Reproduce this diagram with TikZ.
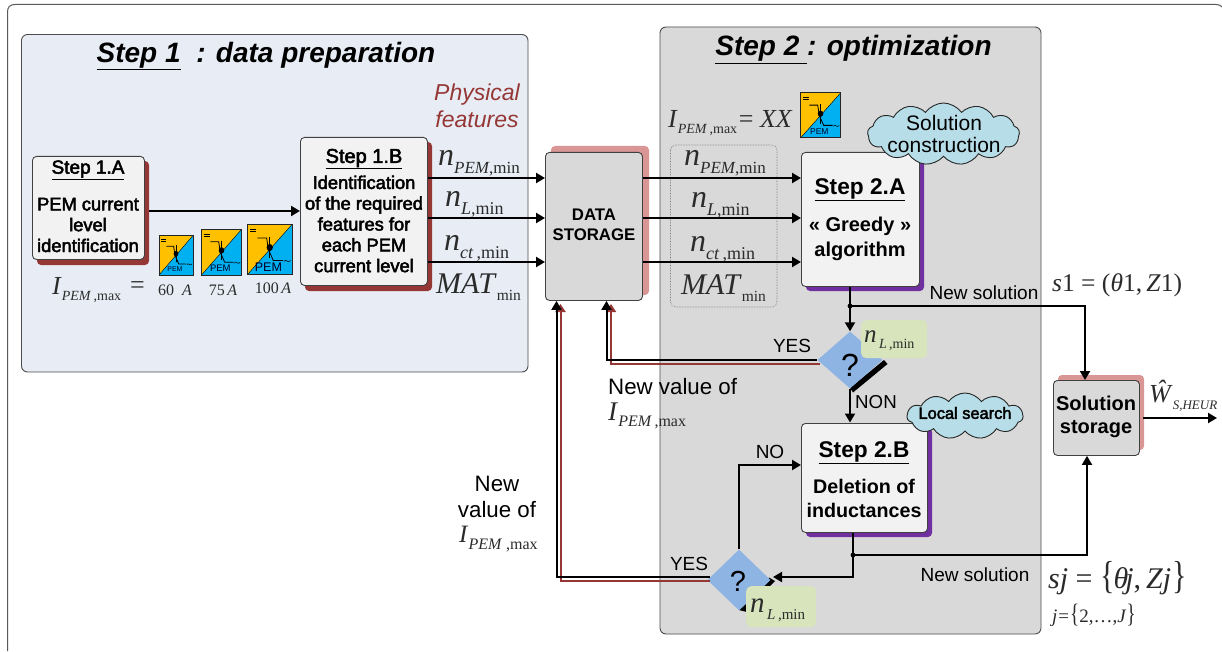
\documentclass[tikz,border=0pt]{standalone}
\usepackage{fontspec}
\setmainfont{Liberation Sans}
\newfontfamily\tms{Liberation Serif}
\newfontfamily\fb[FakeBold=2.6]{Liberation Sans}
\usetikzlibrary{shapes.geometric,shapes.symbols,arrows.meta,calc}
\definecolor{panelA}{HTML}{E8EDF5}
\definecolor{panelB}{HTML}{D9D9D9}
\definecolor{boxfill}{HTML}{F2F2F2}
\definecolor{redsh}{HTML}{953735}
\definecolor{pinksh}{HTML}{D99694}
\definecolor{purp}{HTML}{7030A0}
\definecolor{cloudc}{HTML}{B7DEE8}
\definecolor{greenb}{HTML}{D7E4BC}
\definecolor{diam}{HTML}{8EB4E3}
\definecolor{pemy}{HTML}{FFC000}
\definecolor{pemb}{HTML}{00B0F0}
\definecolor{mathc}{HTML}{2B2B2B}
% symbol with subscript: size, letter, italic sub, roman sub, sub size
\newcommand\symb[5]{{\color{mathc}\tms\fontsize{#1}{#1}\selectfont\textit{#2}\raisebox{-0.25em}{\fontsize{#5}{#5}\selectfont\textit{#3}#4}}}
\newcommand\pemicon[6]{% name, x, y, w, h, fontsize
 \begin{scope}[shift={(#2,#3)},x=#4pt,y=-#5pt]
  \fill[pemy] (0,0) -- (1,0) -- (0,1) -- cycle;
  \fill[pemb] (1,0) -- (1,1) -- (0,1) -- cycle;
  \draw[line width=.4pt] (0,1) -- (1,0);
  \draw[line width=1pt] (.06,.1) -- (.2,.1);
  \draw[line width=1pt] (.06,.15) -- (.2,.15);
  \draw[line width=.8pt] (.22,.27) -- (.43,.27) -- (.47,.5) -- (.58,.72) -- (.8,.72);
  \draw[line width=.8pt] (.5,.25) -- (.5,.68);
  \fill (.5,.46) circle[x radius=.07,y radius=.07];
  \draw[line width=.5pt] (.82,.74) .. controls (.87,.66) and (.9,.8) .. (.97,.72);
  \node[inner sep=0,font=\fontsize{#6}{#6}\selectfont,text=black!85!blue] (#1) at (.47,.85) {PEM};
  \draw[line width=1pt,black!85] (0,0) rectangle (1,1);
 \end{scope}}
\tikzset{
 panel/.style={draw=black!70,line width=.9pt,rounded corners=6pt},
 conn/.style={line width=2pt,-{Triangle[length=9pt,width=10pt]}},
 plainconn/.style={line width=2pt},
 redconn/.style={line width=2pt,redsh,-{Triangle[length=8pt,width=10pt]}},
 boxbase/.style={draw=black!75,line width=.9pt,rounded corners=4pt,fill=boxfill,inner sep=0,anchor=north west,align=center},
 lbl/.style={inner sep=0,align=center},
 cloudn/.style={cloud,cloud puffs=13,cloud puff arc=110,aspect=2.4,draw=black!85,line width=.9pt,fill=cloudc,inner sep=0},
 ques/.style={diamond,aspect=1.12,fill=diam,inner sep=0},
 greenn/.style={fill=greenb,rounded corners=5pt,inner sep=0,anchor=north west},
}
\begin{document}
\begin{tikzpicture}[x=1pt,y=-1pt]
\useasboundingbox (0,0) rectangle (1222,652);
\fill[white] (0,0) rectangle (1222,652);
% outer frame
\draw[black!65,line width=1pt] (7.5,651) -- (7.5,12) .. controls (7.5,7) and (10,4.5) .. (15,4.5) -- (1216,4.5) .. controls (1219,4.5) and (1221,5.5) .. (1222,7);
% panels
\draw[panel,fill=panelA] (21.5,34.5) rectangle (528,372);
\draw[panel,fill=panelB] (660,27) rectangle (1041,634);
\node[lbl,font=\fontsize{28}{28}\selectfont\bfseries\itshape] (t1) at (266,56) {\underline{Step 1}\ \ : data preparation};
\node[lbl,font=\fontsize{28}{28}\selectfont\bfseries\itshape] (t2) at (853.5,49.5) {\underline{Step 2 }: optimization};
\node[lbl,font=\fontsize{23}{27}\selectfont\itshape,text=redsh] (phys) at (477,106) {Physical\\features};
% shadows
\fill[redsh,rounded corners=4pt] (37,161) rectangle (149,265);
\fill[redsh,rounded corners=4pt] (305,142) rectangle (432,291);
\fill[pinksh,rounded corners=4pt] (551,146) rectangle (649,295);
\fill[purp,rounded corners=4pt] (806,157) rectangle (924,291);
\fill[purp,rounded corners=4pt] (806,428) rectangle (932,537);
\fill[pinksh,rounded corners=4pt] (1058,375) rectangle (1144,450);
% dotted box
\draw[black!55,densely dotted,line width=.6pt,rounded corners=5pt] (670.5,145) rectangle (777,307);
% boxes
\node[boxbase,minimum width=112pt,minimum height=103pt] (a1) at (32,156) {};
\node[boxbase,minimum width=127pt,minimum height=148pt] (b1) at (300,137) {};
\node[boxbase,minimum width=97pt,minimum height=148pt,fill=panelB] (ds) at (545,152) {};
\node[boxbase,minimum width=118pt,minimum height=134pt] (a2) at (801,152) {};
\node[boxbase,minimum width=126pt,minimum height=109pt] (b2) at (801,423) {};
\node[boxbase,minimum width=86pt,minimum height=75pt,fill=panelB] (ss) at (1053,380) {};
% box texts
\node[lbl,font=\fontsize{19}{19}\selectfont\fb] (a1t) at (88,170) {\underline{Step 1.A}};
\node[lbl,font=\fontsize{18.3}{20.8}\selectfont\fb] (a1b) at (88,225) {PEM current\\level\\identification};
\node[lbl,font=\fontsize{20}{20}\selectfont\fb] (b1t) at (364,159) {\underline{Step 1.B}};
\node[lbl,font=\fontsize{18.3}{20.8}\selectfont\fb] (b1b) at (364,224) {Identification\\of the required\\features for\\each PEM\\current level};
\node[lbl,font=\fontsize{16.8}{20.5}\selectfont\bfseries] (dst) at (594,225) {DATA\\STORAGE};
\node[lbl,font=\fontsize{22.7}{22.7}\selectfont\bfseries] (a2t) at (860,190) {\underline{Step 2.A}};
\node[lbl,font=\fontsize{20}{24.5}\selectfont\bfseries] (a2b) at (860,239) {« Greedy »\\algorithm};
\node[lbl,font=\fontsize{22.7}{22.7}\selectfont\bfseries] (b2t) at (864,453) {\underline{Step 2.B}};
\node[lbl,font=\fontsize{19.7}{24}\selectfont\bfseries] (b2b) at (864,498) {Deletion of\\inductances};
\node[lbl,font=\fontsize{20}{23.5}\selectfont\bfseries] (sst) at (1096,417) {Solution\\storage};
% clouds
\node[cloudn,minimum width=152pt,minimum height=62pt] (c1) at (943.5,134) {};
\node[lbl,font=\fontsize{21}{22.5}\selectfont] (c1t) at (944,134) {Solution\\construction};
\node[cloudn,minimum width=116pt,minimum height=46pt,cloud puffs=11] (c2) at (965,416) {};
\node[lbl,font=\fontsize{16.4}{16.4}\selectfont\fb] (c2t) at (965,413) {Local search};
% icons
\pemicon{p1}{159}{235.5}{34}{39.5}{7}
\pemicon{p2}{201.5}{229.5}{40}{45.5}{9.5}
\pemicon{p3}{247.5}{224.5}{44.5}{50}{12.5}
\pemicon{p4}{800.5}{93}{40}{45}{8.5}
% left math
\node[lbl,anchor=west] (imax1) at (52,290) {\symb{26}{I}{PEM}{\,,max}{14}};
\node[lbl,anchor=west,font=\tms\fontsize{26}{26}\selectfont,text=mathc] (eq1) at (130,288) {=};
\node[lbl,font=\tms\fontsize{16}{16}\selectfont,text=mathc] (v1) at (175,290) {60\ \ \textit{A}};
\node[lbl,font=\tms\fontsize{16}{16}\selectfont,text=mathc] (v2) at (223,290) {75\,\textit{A}};
\node[lbl,font=\tms\fontsize{16}{16}\selectfont,text=mathc] (v3) at (273,288) {100\,\textit{A}};
% feature labels
\node[lbl,anchor=west] (n1) at (438,163) {\symb{32}{n}{PEM}{,min}{17}};
\node[lbl,anchor=west] (n2) at (445,204) {\symb{32}{n}{L}{,min}{18}};
\node[lbl,anchor=west] (n3) at (444,248) {\symb{32}{n}{ct}{\,,min}{18}};
\node[lbl,anchor=west] (n4) at (436,287) {\symb{30}{MAT}{}{min}{15.5}};
\node[lbl,anchor=west] (m1) at (684,163) {\symb{32}{n}{PEM}{,min}{17}};
\node[lbl,anchor=west] (m2) at (691,205) {\symb{32}{n}{L}{,min}{18}};
\node[lbl,anchor=west] (m3) at (690,249) {\symb{32}{n}{ct}{\,,min}{18}};
\node[lbl,anchor=west] (m4) at (681,288) {\symb{30}{MAT}{}{min}{15.5}};
\node[lbl,anchor=west] (imax2) at (668,123) {\symb{26}{I}{PEM}{\,,max}{14}\,{\color{mathc}\tms\fontsize{26}{26}\selectfont= \textit{XX}}};
% input and output connectors
\draw[conn] (149,211) coordinate(e0) -- (b1.west|-e0);
\coordinate (y1) at (0,178); \coordinate (y2) at (0,218); \coordinate (y3) at (0,262);
\draw[conn] (b1.east|-y1) -- (ds.west|-y1);
\draw[conn] (b1.east|-y2) -- (ds.west|-y2);
\draw[conn] (b1.east|-y3) -- (ds.west|-y3);
\draw[conn] (ds.east|-y1) -- (a2.west|-y1);
\draw[conn] (ds.east|-y2) -- (a2.west|-y2);
\draw[conn] (ds.east|-y3) -- (a2.west|-y3);
% decision shadows and diamonds
\coordinate (d1c) at (850,360);
\coordinate (d2c) at (739,580);
\fill[black] (850,388) -- (884,360) -- (887.5,364) -- (853,392.5) -- cycle;
\node[ques,minimum width=65pt,minimum height=57pt] (d1) at (d1c) {};
\fill[black] (739,610) -- (747,603) -- (747,612) -- cycle;
\fill[black] (759,587) -- (769,577.5) -- (775,581) -- (765,591) -- cycle;
\node[ques,minimum width=63pt,minimum height=61pt] (d2) at (d2c) {};
\node[lbl,font=\fontsize{32}{32}\selectfont] (q1) at (850,365) {?};
\node[lbl,font=\fontsize{29}{29}\selectfont] (q2) at (738,581) {?};
\node[greenn,minimum width=66pt,minimum height=38pt] (g1) at (861,320) {};
\node[greenn,minimum width=70pt,minimum height=41pt] (g2) at (746,586) {};
\node[lbl,anchor=west] (gt1) at (864,341) {\symb{25}{n}{\,L}{\,,min}{14}};
\node[lbl,anchor=west] (gt2) at (750,610) {\symb{29}{n}{\,L}{\,,min}{15}};
% flow
\draw[conn] (a2.south-|d1.north) -- (d1.north);
\coordinate (j1) at (850,306);
\fill (j1) circle (2.4pt);
\coordinate (k1) at (1085,306);
\draw[conn] (j1) -- (k1) -- (k1|-ss.north);
\draw[conn] (d1.south) -- (850,422.5) coordinate(e1);
\coordinate (j2) at (853,555);
\draw[plainconn] (j2|-b2.south) -- (j2);
\fill (j2) circle (2.4pt);
\coordinate (k2) at (1087,555);
\draw[conn] (j2) -- (k2) -- (k2|-ss.south);
\coordinate (k3) at (853,577);
\draw[conn] (j2) -- (k3) -- (773,577) coordinate(e2);
\coordinate (k4) at (739,465);
\draw[conn] (d2.north) -- (k4) -- (k4-|b2.west);
\coordinate (o1) at (1217,418);
\draw[conn] (1143,418) -- (o1);
% feedback
\coordinate (f1) at (611,363.5);
\draw[redconn] (d1.west|-f1) ++(3,0) -- (f1) -- (611,304);
\coordinate (f2) at (606.5,360);
\draw[conn] (d1.west) -- (f2) -- (f2|-ds.south);
\coordinate (f3) at (560.5,581);
\draw[redconn] (d2.west|-f3) ++(3,0) -- (f3) -- (560.5,304);
\coordinate (f4) at (556.5,577);
\draw[conn] (d2.west|-f4) ++(3,0) -- (f4) -- (f4|-ds.south);
% texts on flow
\node[lbl,font=\fontsize{19}{19}\selectfont] (yes1) at (792,346) {YES};
\node[lbl,font=\fontsize{19}{19}\selectfont] (yes2) at (689,564) {YES};
\node[lbl,font=\fontsize{18.7}{18.7}\selectfont] (non) at (876,402) {NON};
\node[lbl,font=\fontsize{19}{19}\selectfont] (no) at (770,452) {NO};
\node[lbl,font=\fontsize{19}{19}\selectfont] (ns1) at (984,293) {New solution};
\node[lbl,font=\fontsize{19}{19}\selectfont] (ns2) at (975,575) {New solution};
\node[lbl,anchor=west,font=\fontsize{22.3}{22.3}\selectfont] (nv1) at (608,387) {New value of};
\node[lbl,anchor=west] (nv1b) at (608,416) {\symb{27}{I}{PEM}{\,,max}{16}};
\node[lbl,font=\fontsize{22.3}{26.5}\selectfont] (nv2) at (497,497) {New\\value of};
\node[lbl,anchor=west] (nv2b) at (459,539) {\symb{25}{I}{PEM}{\ ,max}{16}};
% right math
\node[lbl,anchor=west,font=\tms\fontsize{25.5}{25.5}\selectfont,text=mathc] (s1) at (1052,285) {\textit{s}1 = (\textit{θ}1,\,\textit{Z}1)};
\node[lbl,anchor=west] (w) at (1149,396) {\symb{26}{Ŵ}{S,HEUR}{}{13}};
\node[lbl,anchor=west,font=\tms\fontsize{30}{30}\selectfont,text=mathc] (sj) at (1048,578) {\textit{sj} = \scalebox{1}[1.3]{\{}\hspace{-1pt}\textit{θ}\hspace{-3pt}\textit{j},\,\textit{Zj}\hspace{1pt}\scalebox{1}[1.3]{\}}};
\node[lbl,anchor=west,font=\tms\fontsize{19}{19}\selectfont,text=mathc] (js) at (1052,615) {\textit{j}\hspace{1pt}=\hspace{1pt}\scalebox{1}[1.4]{\{}2,…,\textit{J}\scalebox{1}[1.4]{\}}};
\end{tikzpicture}
\end{document}
